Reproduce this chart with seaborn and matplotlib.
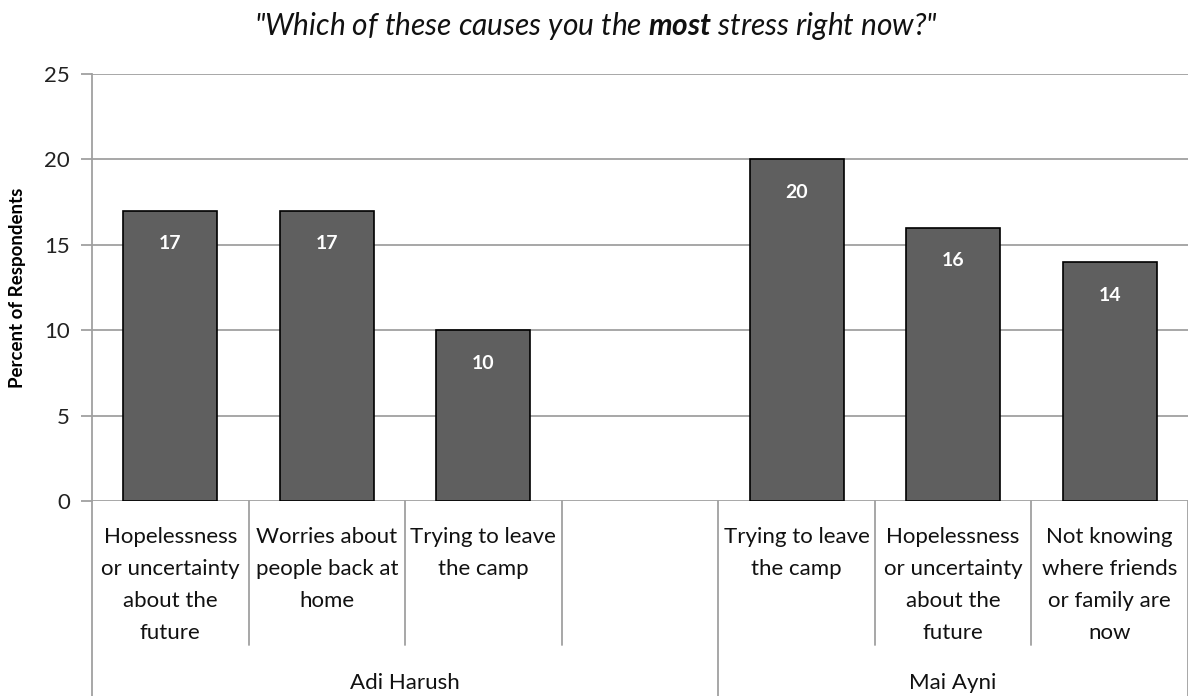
import numpy as np
import pandas as pd
import matplotlib
matplotlib.use("Agg")
import matplotlib.pyplot as plt
import seaborn as sns

# ---- data ----
groups = ["Adi Harush", "Adi Harush", "Adi Harush", "Adi Harush",
          "Mai Ayni", "Mai Ayni", "Mai Ayni"]
causes = ["Hopelessness\nor uncertainty\nabout the\nfuture",
          "Worries about\npeople back at\nhome",
          "Trying to leave\nthe camp",
          "",
          "Trying to leave\nthe camp",
          "Hopelessness\nor uncertainty\nabout the\nfuture",
          "Not knowing\nwhere friends\nor family are\nnow"]
values = [17, 17, 10, np.nan, 20, 16, 14]
yticks = [0, 5, 10, 15, 20, 25]
title_pre = '"Which of these causes you the '
title_bold = 'most'
title_post = ' stress right now?"'
ylabel = "Percent of Respondents"

sns.set_theme(style="white")
plt.rcParams["font.family"] = ["Lato", "DejaVu Sans"]
plt.rcParams["mathtext.fontset"] = "custom"
plt.rcParams["mathtext.bf"] = "Lato:italic:bold"
plt.rcParams["mathtext.rm"] = "Lato:italic"
plt.rcParams["mathtext.it"] = "Lato:italic"

keys = [f"{g}|{i}" for i, g in enumerate(groups)]
df = pd.DataFrame({"key": keys, "value": values})

fig = plt.figure(figsize=(11.88, 6.96), dpi=100)
W, H = 1188, 696
ax = fig.add_axes([92 / W, 1 - 501 / H, (1188 - 92) / W, (501 - 74) / H])

sns.barplot(data=df, x="key", y="value", order=keys, ax=ax,
            color="#5f5f5f", saturation=1, width=0.6,
            edgecolor="black", linewidth=1.2, zorder=3)

ax.set_xlim(-0.5, len(keys) - 0.5)
ax.set_ylim(0, 25)
ax.set_yticks(yticks)
ax.set_yticklabels([str(t) for t in yticks], fontsize=16, color="#222222")
ax.set_xticks([])
ax.set_xlabel("")
ax.set_ylabel(ylabel, fontsize=13.5, fontweight="bold", color="#000000")
ax.yaxis.set_label_coords(-66 / 1096, 0.5)
grid_c = "#a0a0a0"
ax.yaxis.grid(True, color=grid_c, linewidth=1.3, zorder=0)
ax.set_axisbelow(True)
for s in ["top", "right", "bottom"]:
    ax.spines[s].set_visible(False)
ax.spines["left"].set_color(grid_c)
ax.spines["left"].set_linewidth(1.3)
ax.tick_params(axis="y", which="both", left=True, length=8, width=1.3,
               color=grid_c, pad=8)

# value labels
for c in ax.containers:
    ax.bar_label(c, labels=[("" if np.isnan(h) else f"{int(h)}") for h in c.datavalues],
                 padding=-30, color="white", fontweight="bold", fontsize=14)

# category labels and separators below axis
tr = ax.get_xaxis_transform()
for i, lab in enumerate(causes):
    ax.text(i, -0.060, lab, transform=tr, ha="center", va="top",
            fontsize=16, linespacing=1.75, color="#111111")

n = len(keys)
for i in range(n + 1):
    x = i - 0.5
    is_group = (i == 0 or i == n or groups[i] != groups[i - 1])
    ybot = -0.46 if is_group else -0.337
    ax.plot([x, x], [0, ybot], transform=tr, color=grid_c, lw=1.3,
            clip_on=False, zorder=1)

# group labels
uniq = []
for g in groups:
    if g not in uniq:
        uniq.append(g)
for g in uniq:
    idx = [i for i, gg in enumerate(groups) if gg == g]
    xc = (idx[0] + idx[-1]) / 2
    ax.text(xc, -0.426, g, transform=tr, ha="center", va="center",
            fontsize=16, color="#111111")

fig.text(0.502, 1 - 26 / H, title_pre + r"$\mathbf{" + title_bold + "}$" + title_post,
         ha="center", va="center", fontsize=21.5, style="italic", color="#111111")

fig.savefig("out.png", dpi=100)
